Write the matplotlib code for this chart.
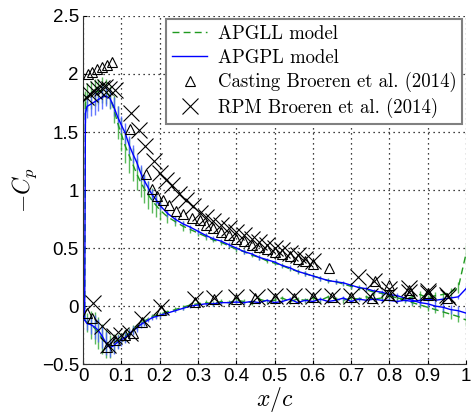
import matplotlib
matplotlib.use("Agg")
from matplotlib import pyplot as plt

""" Pressure coefficient on iced airfoil: APGLL / APGPL models vs Broeren et al. (2014) """

# model x/c stations, upper and lower surface
x_up = [0.004, 0.006, 0.01, 0.02, 0.03, 0.04, 0.05, 0.06, 0.07, 0.08, 0.09, 0.10, 0.11, 0.12,
        0.13, 0.14, 0.15, 0.16, 0.17, 0.18, 0.19, 0.20, 0.22, 0.24, 0.26, 0.28, 0.30, 0.32,
        0.34, 0.36, 0.38, 0.40, 0.42, 0.44, 0.46, 0.48, 0.50, 0.52, 0.54, 0.56, 0.58, 0.60,
        0.62, 0.64, 0.66, 0.68, 0.70, 0.72, 0.74, 0.76, 0.78, 0.80, 0.82, 0.84, 0.86, 0.88,
        0.90, 0.92, 0.94, 0.96, 0.98, 1.00]
x_lo = [0.004, 0.01, 0.02, 0.03, 0.04, 0.05, 0.06, 0.07, 0.08, 0.09, 0.10, 0.11, 0.12,
        0.13, 0.14, 0.15, 0.16, 0.17, 0.18, 0.19, 0.20, 0.22, 0.24, 0.26, 0.28, 0.30, 0.32,
        0.34, 0.36, 0.38, 0.40, 0.42, 0.44, 0.46, 0.48, 0.50, 0.52, 0.54, 0.56, 0.58, 0.60,
        0.62, 0.64, 0.66, 0.68, 0.70, 0.72, 0.74, 0.76, 0.78, 0.80, 0.82, 0.84, 0.86, 0.88,
        0.90, 0.92, 0.94, 0.96, 0.98, 1.00]

# APGPL model (-Cp mean and spread)
apgpl_up = [-0.12, 1.66, 1.72, 1.74, 1.76, 1.78, 1.80, 1.81, 1.79, 1.72, 1.63, 1.56, 1.49, 1.39,
            1.31, 1.24, 1.15, 1.08, 1.02, 0.96, 0.92, 0.87, 0.80, 0.75, 0.71, 0.68, 0.645, 0.61,
            0.58, 0.56, 0.53, 0.50, 0.47, 0.45, 0.42, 0.40, 0.38, 0.35, 0.33, 0.30, 0.28, 0.26,
            0.24, 0.22, 0.21, 0.20, 0.18, 0.16, 0.15, 0.13, 0.12, 0.10, 0.09, 0.07, 0.05, 0.03,
            0.02, 0.00, -0.01, -0.03, -0.04, -0.06]
apgpl_up_err = [0.0, 0.08, 0.10, 0.10, 0.11, 0.10, 0.10, 0.09, 0.08, 0.08, 0.09, 0.08, 0.09, 0.08,
                0.08, 0.07, 0.07, 0.06, 0.06, 0.05, 0.05, 0.04, 0.03, 0.03, 0.02, 0.02, 0.02, 0.02,
                0.02, 0.015, 0.02, 0.015, 0.02, 0.015, 0.02, 0.015, 0.02, 0.015, 0.02, 0.015, 0.02, 0.015,
                0.02, 0.015, 0.02, 0.015, 0.02, 0.015, 0.02, 0.015, 0.02, 0.02, 0.02, 0.02, 0.025, 0.03,
                0.03, 0.035, 0.04, 0.04, 0.045, 0.05]
apgpl_lo = [-0.12, -0.15, -0.16, -0.18, -0.21, -0.26, -0.32, -0.36, -0.34, -0.31, -0.29, -0.27, -0.24,
            -0.21, -0.19, -0.16, -0.14, -0.12, -0.10, -0.09, -0.08, -0.06, -0.04, -0.02, 0.00, 0.01, 0.02,
            0.02, 0.03, 0.03, 0.035, 0.03, 0.04, 0.03, 0.05, 0.03, 0.04, 0.06, 0.03, 0.05, 0.04,
            0.06, 0.04, 0.05, 0.07, 0.04, 0.06, 0.05, 0.06, 0.05, 0.05, 0.04, 0.05, 0.04, 0.05,
            0.06, 0.05, 0.06, 0.07, 0.08, 0.15]
apgpl_lo_err = [0.0, 0.06, 0.08, 0.10, 0.10, 0.10, 0.10, 0.08, 0.07, 0.06, 0.05, 0.05, 0.04,
                0.04, 0.03, 0.03, 0.03, 0.02, 0.02, 0.02, 0.02, 0.015, 0.015, 0.015, 0.015, 0.015, 0.015,
                0.015, 0.015, 0.015, 0.015, 0.015, 0.015, 0.015, 0.015, 0.015, 0.015, 0.015, 0.015, 0.015, 0.015,
                0.015, 0.015, 0.015, 0.015, 0.015, 0.015, 0.015, 0.015, 0.015, 0.015, 0.015, 0.015, 0.02, 0.02,
                0.02, 0.02, 0.02, 0.02, 0.02, 0.03]

# APGLL model
apgll_up = [-0.12, 1.75, 1.80, 1.82, 1.84, 1.85, 1.86, 1.85, 1.80, 1.70, 1.58, 1.48, 1.38, 1.30,
            1.22, 1.14, 1.07, 1.01, 0.96, 0.91, 0.87, 0.83, 0.77, 0.73, 0.69, 0.66, 0.63, 0.60,
            0.57, 0.55, 0.52, 0.49, 0.47, 0.44, 0.42, 0.39, 0.37, 0.35, 0.32, 0.30, 0.28, 0.26,
            0.24, 0.22, 0.21, 0.19, 0.17, 0.16, 0.14, 0.12, 0.11, 0.09, 0.07, 0.05, 0.03, 0.01,
            -0.01, -0.03, -0.05, -0.07, -0.09, -0.12]
apgll_up_err = [0.0, 0.10, 0.12, 0.12, 0.12, 0.11, 0.11, 0.11, 0.10, 0.12, 0.14, 0.14, 0.15, 0.15,
                0.14, 0.14, 0.13, 0.12, 0.12, 0.11, 0.10, 0.09, 0.05, 0.04, 0.04, 0.03, 0.03, 0.03,
                0.02, 0.02, 0.02, 0.02, 0.02, 0.02, 0.02, 0.02, 0.02, 0.02, 0.02, 0.02, 0.02, 0.02,
                0.02, 0.02, 0.02, 0.02, 0.02, 0.02, 0.02, 0.02, 0.02, 0.02, 0.02, 0.02, 0.03, 0.03,
                0.03, 0.03, 0.04, 0.04, 0.05, 0.05]
apgll_lo = [-0.12, -0.14, -0.16, -0.19, -0.23, -0.28, -0.33, -0.35, -0.32, -0.30, -0.28, -0.26, -0.23,
            -0.20, -0.18, -0.15, -0.13, -0.11, -0.09, -0.08, -0.07, -0.05, -0.03, -0.01, 0.01, 0.02, 0.03,
            0.02, 0.04, 0.03, 0.05, 0.04, 0.03, 0.06, 0.04, 0.05, 0.07, 0.04, 0.06, 0.05, 0.07,
            0.05, 0.08, 0.06, 0.05, 0.07, 0.06, 0.08, 0.06, 0.07, 0.09, 0.07, 0.06, 0.08, 0.10,
            0.07, 0.09, 0.10, 0.12, 0.16, 0.45]
apgll_lo_err = [0.0, 0.08, 0.12, 0.14, 0.14, 0.13, 0.12, 0.10, 0.08, 0.06, 0.05, 0.05, 0.04,
                0.04, 0.03, 0.03, 0.03, 0.02, 0.02, 0.02, 0.02, 0.02, 0.02, 0.02, 0.02, 0.02, 0.02,
                0.02, 0.02, 0.02, 0.02, 0.02, 0.02, 0.02, 0.02, 0.02, 0.02, 0.02, 0.02, 0.02, 0.02,
                0.02, 0.02, 0.02, 0.02, 0.02, 0.02, 0.02, 0.02, 0.02, 0.02, 0.02, 0.02, 0.02, 0.03,
                0.03, 0.03, 0.03, 0.04, 0.05, 0.08]

# Casting, Broeren et al. (2014)
cast_x = [0.012, 0.024, 0.036, 0.049, 0.062, 0.075, 0.123, 0.164, 0.179, 0.194, 0.208, 0.223,
          0.243, 0.262, 0.284, 0.304, 0.32, 0.34, 0.36, 0.38, 0.40, 0.42, 0.44, 0.46, 0.48,
          0.50, 0.52, 0.54, 0.56, 0.58, 0.60, 0.643, 0.762, 0.80, 0.852, 0.90,
          0.011, 0.023, 0.063, 0.084, 0.11, 0.13, 0.153, 0.203, 0.292, 0.343, 0.40, 0.45,
          0.50, 0.55, 0.60, 0.65, 0.70, 0.754, 0.80, 0.854, 0.90, 0.95]
cast_cp = [2.00, 2.02, 2.04, 2.06, 2.08, 2.10, 1.53, 1.14, 1.01, 0.95, 0.91, 0.87,
           0.82, 0.79, 0.76, 0.74, 0.70, 0.67, 0.64, 0.61, 0.58, 0.56, 0.53, 0.51, 0.49,
           0.47, 0.45, 0.43, 0.41, 0.39, 0.36, 0.33, 0.22, 0.18, 0.137, 0.094,
           -0.063, -0.106, -0.35, -0.29, -0.25, -0.235, -0.135, -0.03, 0.037, 0.057, 0.06, 0.07,
           0.07, 0.07, 0.08, 0.08, 0.08, 0.066, 0.094, 0.11, 0.11, 0.066]

# RPM, Broeren et al. (2014)
rpm_x = [0.008, 0.018, 0.028, 0.038, 0.048, 0.058, 0.068, 0.082, 0.124, 0.145, 0.162, 0.184,
         0.20, 0.216, 0.233, 0.25, 0.27, 0.288, 0.305, 0.32, 0.34, 0.36, 0.38, 0.40, 0.42,
         0.44, 0.46, 0.48, 0.50, 0.52, 0.54, 0.56, 0.58, 0.60, 0.719, 0.76, 0.80, 0.85, 0.90, 0.95,
         0.025, 0.049, 0.066, 0.081, 0.10, 0.123, 0.153, 0.203, 0.292, 0.343, 0.40, 0.453,
         0.50, 0.55, 0.60, 0.65, 0.70, 0.75, 0.80, 0.85, 0.90, 0.954]
rpm_cp = [1.80, 1.83, 1.85, 1.87, 1.88, 1.89, 1.87, 1.86, 1.66, 1.52, 1.38, 1.25,
          1.15, 1.09, 1.04, 0.97, 0.91, 0.86, 0.80, 0.77, 0.73, 0.70, 0.67, 0.64, 0.61,
          0.58, 0.55, 0.53, 0.50, 0.48, 0.46, 0.44, 0.41, 0.39, 0.25, 0.22, 0.15, 0.16, 0.13, 0.10,
          0.03, -0.17, -0.335, -0.26, -0.25, -0.235, -0.11, -0.01, 0.057, 0.074, 0.08, 0.08,
          0.09, 0.09, 0.09, 0.09, 0.09, 0.09, 0.10, 0.12, 0.11, 0.08]

GREEN = "#1f9a1f"
GREEN_BAR = "#3fae3f"
BLUE = "#0000ff"
BLUE_BAR = "#4a62ff"


def draw_model(ax, x, y, err, color, bar_color, ls, label=None):
    ax.errorbar(x, y, yerr=err, fmt="none", ecolor=bar_color, elinewidth=1.0, alpha=0.85, zorder=2)
    ax.plot(x, y, color=color, ls=ls, lw=1.0, label=label, zorder=3)


def make_plot():
    plt.rcParams["font.family"] = ["Liberation Sans", "DejaVu Sans"]
    plt.rcParams["mathtext.fontset"] = "cm"

    fig = plt.figure(figsize=(4.75, 4.2), dpi=100)
    ax = fig.add_axes([0.175, 0.133, 0.806, 0.829])

    draw_model(ax, x_up, apgll_up, apgll_up_err, GREEN, GREEN_BAR, (0, (5, 3)), "APGLL model")
    draw_model(ax, x_lo, apgll_lo, apgll_lo_err, GREEN, GREEN_BAR, (0, (5, 3)))
    draw_model(ax, x_up, apgpl_up, apgpl_up_err, BLUE, BLUE_BAR, "-", "APGPL model")
    draw_model(ax, x_lo, apgpl_lo, apgpl_lo_err, BLUE, BLUE_BAR, "-")

    ax.plot(cast_x, cast_cp, ls="none", marker="^", ms=7, mfc="none", mec="black", mew=0.8,
            label="Casting Broeren et al. (2014)", zorder=4)
    ax.plot(rpm_x, rpm_cp, ls="none", marker="x", ms=11, color="black", mew=0.8,
            label="RPM Broeren et al. (2014)", zorder=5)

    ax.set_xlim(0, 1)
    ax.set_ylim(-0.5, 2.5)
    ax.set_xticks([0, 0.1, 0.2, 0.3, 0.4, 0.5, 0.6, 0.7, 0.8, 0.9, 1])
    ax.set_xticklabels(["0", "0.1", "0.2", "0.3", "0.4", "0.5", "0.6", "0.7", "0.8", "0.9", "1"])
    ax.set_yticks([-0.5, 0, 0.5, 1, 1.5, 2, 2.5])
    ax.set_yticklabels(["\u22120.5", "0", "0.5", "1", "1.5", "2", "2.5"])
    ax.tick_params(direction="in", labelsize=13.5, length=3, width=0.8, pad=3)
    ax.grid(True, ls=(0, (1, 3)), color="black", lw=0.9)
    ax.spines["top"].set_visible(False)
    ax.spines["right"].set_visible(False)
    ax.spines["left"].set_color("#333333")
    ax.spines["bottom"].set_color("#333333")

    ax.set_xlabel(r"$x/c$", fontsize=17, labelpad=0)
    ax.set_ylabel(r"$-C_p$", fontsize=17, labelpad=2)

    leg = ax.legend(loc="upper right", bbox_to_anchor=(0.99, 0.99), borderaxespad=0,
                    prop={"family": "cmr10", "size": 13.5}, fancybox=False, framealpha=1,
                    handlelength=1.9, handletextpad=0.55, labelspacing=0.3, borderpad=0.3)
    leg.get_frame().set_edgecolor("#808080")
    leg.get_frame().set_linewidth(1.5)

    fig.savefig("out.png", dpi=100)


if __name__ == "__main__":
    make_plot()
